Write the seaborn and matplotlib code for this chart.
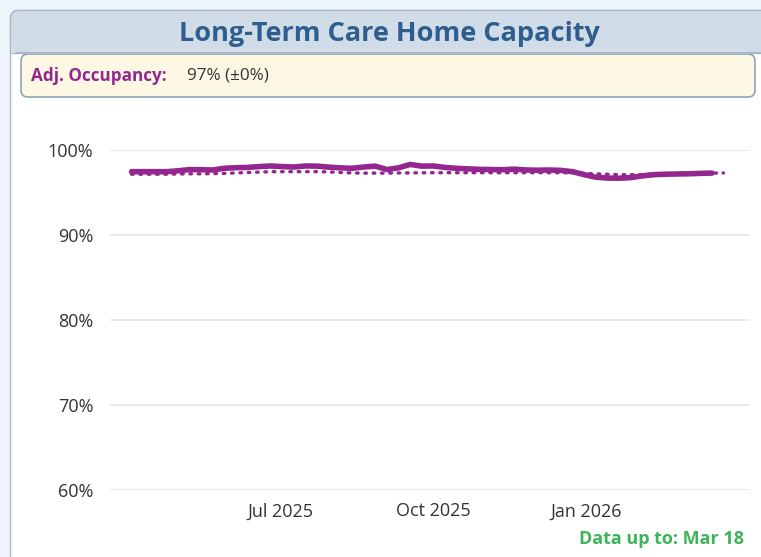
import numpy as np
import pandas as pd
import matplotlib
matplotlib.use("Agg")
import matplotlib.pyplot as plt
import matplotlib.dates as mdates
from matplotlib.patches import FancyBboxPatch, Rectangle
from matplotlib.ticker import FuncFormatter
from matplotlib.offsetbox import TextArea, HPacker, AnnotationBbox
import seaborn as sns

# ---- data ----
dates = pd.date_range("2025-04-02", periods=51, freq="7D")
occupancy = [97.45, 97.45, 97.45, 97.45, 97.55, 97.7, 97.68, 97.65, 97.85, 97.92,
             97.95, 98.05, 98.12, 98.05, 98.0, 98.12, 98.1, 97.98, 97.9, 97.85,
             98.0, 98.1, 97.7, 97.9, 98.3, 98.1, 98.12, 97.95, 97.85, 97.78,
             97.72, 97.7, 97.68, 97.75, 97.65, 97.62, 97.65, 97.6, 97.45, 97.1,
             96.8, 96.7, 96.68, 96.75, 96.95, 97.1, 97.15, 97.18, 97.2, 97.25, 97.28]
trend_dates = pd.date_range("2025-04-02", periods=52, freq="7D")
trend = [97.15, 97.15, 97.15, 97.15, 97.18, 97.2, 97.2, 97.22, 97.25, 97.3,
         97.35, 97.4, 97.45, 97.45, 97.45, 97.45, 97.45, 97.42, 97.35, 97.3,
         97.28, 97.28, 97.28, 97.3, 97.3, 97.32, 97.33, 97.33, 97.33, 97.33,
         97.33, 97.33, 97.33, 97.33, 97.33, 97.33, 97.33, 97.33, 97.3, 97.25,
         97.2, 97.15, 97.1, 97.1, 97.12, 97.15, 97.18, 97.2, 97.22, 97.25, 97.28, 97.3]
y_ticks = [60, 70, 80, 90, 100]
x_ticks = ["2025-07-01", "2025-10-01", "2026-01-01"]
x_tick_labels = ["Jul 2025", "Oct 2025", "Jan 2026"]
title = "Long-Term Care Home Capacity"
metric_label = "Adj. Occupancy:"
metric_value = "97% (±0%)"
footer = "Data up to: Mar 18"

df = pd.DataFrame({"date": dates, "value": occupancy})
dft = pd.DataFrame({"date": trend_dates, "value": trend})

W, H = 761, 557
sns.set_theme(style="white")
plt.rcParams["font.family"] = ["Open Sans", "DejaVu Sans"]
fig = plt.figure(figsize=(W / 100, H / 100), dpi=100)
fig.patch.set_facecolor("#eef5fc")

# background decorations in pixel coordinates
bg = fig.add_axes([0, 0, 1, 1])
bg.set_xlim(0, W)
bg.set_ylim(H, 0)
bg.axis("off")
bg.add_patch(FancyBboxPatch((10.5, 10.5), 770, 600, boxstyle="round,pad=0,rounding_size=8",
                            facecolor="white", edgecolor="#a9b9c9", linewidth=1.0))
bg.add_patch(FancyBboxPatch((10.5, 10.5), 770, 42, boxstyle="round,pad=0,rounding_size=8",
                            facecolor="#d0dde9", edgecolor="#a9b9c9", linewidth=1.0))
bg.add_patch(Rectangle((11, 40), 769, 12, facecolor="#d0dde9", edgecolor="none"))
bg.plot([10.5, 761], [52.5, 52.5], color="#a9b9c9", lw=1.0)
bg.add_patch(FancyBboxPatch((21, 54), 734, 43, boxstyle="round,pad=0,rounding_size=7",
                            facecolor="#fdf8e4", edgecolor="#8ea3b8", linewidth=1.2))
bg.text(389, 34, title, ha="center", va="center", fontsize=19.5, fontweight="bold",
        color="#2f5e8e")
bg.text(31, 76, metric_label, ha="left", va="center", fontsize=12.3,
        fontweight="bold", color="#93278f")
bg.text(187, 76, metric_value, ha="left", va="center", fontsize=12.3, color="#333333")
bg.text(744, 539, footer, ha="right", va="center", fontsize=13, fontweight="bold",
        color="#3cb55a")

# main plot
ax = fig.add_axes([110 / W, 1 - 490 / H, 640 / W, 340 / H])
ax.set_facecolor("none")
sns.lineplot(data=dft, x="date", y="value", ax=ax, color="#93278f", linewidth=2.4,
             linestyle=(0, (0.5, 2.0)), dash_capstyle="round")
sns.lineplot(data=df, x="date", y="value", ax=ax, color="#93278f", linewidth=4.0,
             solid_capstyle="round", solid_joinstyle="round")
ax.set_ylim(60, 100)
ax.set_xlim(pd.Timestamp("2025-03-20"), pd.Timestamp("2026-04-10"))
ax.set_yticks(y_ticks)
ax.yaxis.set_major_formatter(FuncFormatter(lambda v, p: f"{v:.0f}%"))
ax.set_xticks(pd.to_datetime(x_ticks))
ax.set_xticklabels(x_tick_labels)
ax.grid(axis="y", color="#e6e6e6", linewidth=1.2)
ax.grid(axis="x", visible=False)
for s in ax.spines.values():
    s.set_visible(False)
ax.tick_params(axis="both", length=0, labelsize=13, colors="#333333")
ax.tick_params(axis="y", pad=12)
ax.tick_params(axis="x", pad=9)
ax.set_xlabel("")
ax.set_ylabel("")

fig.savefig("out.png", dpi=100, facecolor=fig.get_facecolor())
